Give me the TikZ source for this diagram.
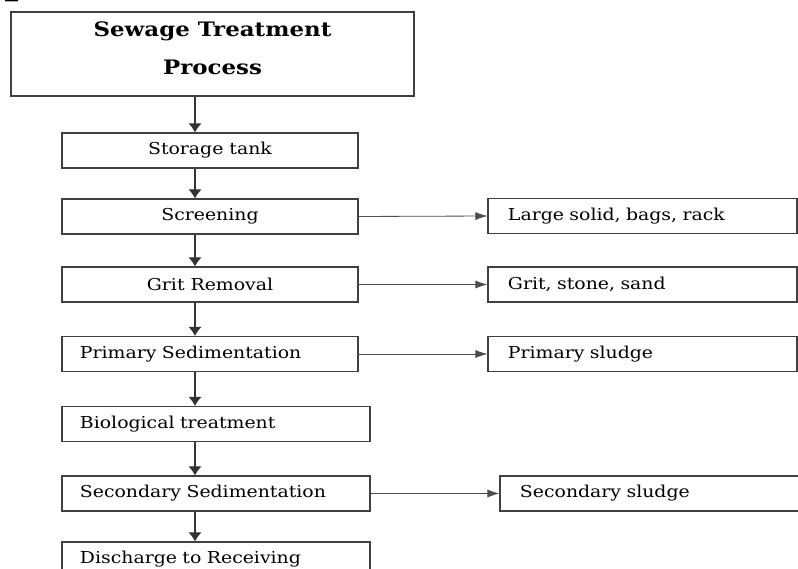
\documentclass[tikz,border=0pt]{standalone}
\usepackage{fontspec}
\setmainfont{DejaVu Serif}[FakeStretch=1.15]
\usepackage{tikz}
\usetikzlibrary{arrows.meta}

\newcommand{\boxfont}{\fontsize{14}{15}\selectfont}

\begin{document}
\begin{tikzpicture}[x=0.03cm, y=-0.03cm,
    box/.style={draw=black!75, line width=0.9pt, minimum height=1.05cm, inner sep=0pt, font=\boxfont},
    cbox/.style={box, minimum width=8.88cm},
    lbox/.style={box, inner xsep=0.54cm, text width=8.16cm, align=left},
    rbox/.style={box, inner xsep=0.6cm, text width=8.07cm, align=left},
    flow/.style={-{Latex[length=0.27cm, width=0.39cm]}, line width=0.9pt, black!80},
    side/.style={-{Latex[length=0.36cm, width=0.24cm]}, line width=0.7pt, black!70}]
    \clip (0,0) rectangle (798,569);
    % heading fragment cut off at the top
    \node[anchor=base west, inner sep=0pt, font=\bfseries\fontsize{30}{30}\selectfont] (cut) at (4,-5) {p};
    % main column
    \node[draw=black!75, line width=0.9pt, minimum width=12.09cm, minimum height=2.52cm, align=center,
      text depth=10pt, font=\bfseries\fontsize{17}{32}\selectfont] (title) at (212.5,54) {Sewage Treatment\\Process};
    \node[cbox] (store) at (210,150.5) {Storage tank};
    \node[cbox] (screen) at (210,216.5) {Screening};
    \node[cbox] (grit) at (210,284.5) {Grit Removal};
    \node[box, minimum width=8.88cm, inner xsep=0.54cm, text width=7.8cm, align=left] (prim) at (210,354) {Primary Sedimentation};
    \node[lbox] (bio) at (216,424) {Biological treatment};
    \node[lbox] (sec) at (216,493.5) {Secondary Sedimentation};
    \node[lbox] (out) at (216,559.5) {Discharge to Receiving};
    % side column
    \node[rbox] (rack) at (642.5,216) {Large solid, bags, rack};
    \node[rbox] (sand) at (642.5,284.5) {Grit, stone, sand};
    \node[rbox] (psludge) at (642.5,354) {Primary sludge};
    \node[rbox] (ssludge) at (654.5,493.5) {Secondary sludge};
    % arrows
    \coordinate (spine) at (195,0);
    \draw[flow] (title.south -| spine) -- (store.north -| spine);
    \draw[flow] (store.south -| spine) -- (screen.north -| spine);
    \draw[flow] (screen.south -| spine) -- (grit.north -| spine);
    \draw[flow] (grit.south -| spine) -- (prim.north -| spine);
    \draw[flow] (prim.south -| spine) -- (bio.north -| spine);
    \draw[flow] (bio.south -| spine) -- (sec.north -| spine);
    \draw[flow] (sec.south -| spine) -- (out.north -| spine);
    \draw[side] (screen.east) -- (rack.west);
    \draw[side] (grit.east) -- (sand.west);
    \draw[side] (prim.east) -- (psludge.west);
    \draw[side] (sec.east) -- (ssludge.west);
\end{tikzpicture}
\end{document}
